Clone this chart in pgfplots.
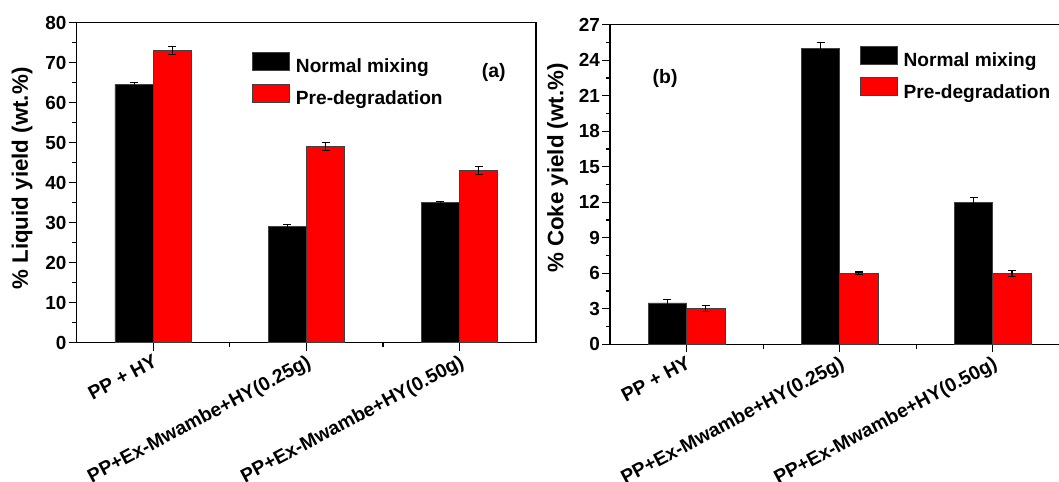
\documentclass[border=0pt]{standalone}
\usepackage{pgfplots}
\pgfplotsset{compat=1.18}
\usepackage{fontspec}
\setmainfont{Liberation Sans}

\pgfplotstableread{
x y e
0 64.5 0.5
1 29.0 0.5
2 35.0 0.4
}\liqnormal
\pgfplotstableread{
x y e
0 73.0 1.0
1 49.0 1.0
2 43.0 1.0
}\liqpre
\pgfplotstableread{
x y e
0 3.5 0.3
1 25.0 0.5
2 12.0 0.4
}\cokenormal
\pgfplotstableread{
x y e
0 3.0 0.25
1 6.0 0.1
2 6.0 0.25
}\cokepre

\pgfplotsset{
  mybars/.style={
    scale only axis, width=459.3bp, height=320bp,
    xmin=-0.5, xmax=2.5, ymin=0,
    ybar=0pt, bar width=38.3bp,
    xtick={0,1,2},
    xticklabels={PP + HY, PP+Ex-Mwambe+HY(0.25g), PP+Ex-Mwambe+HY(0.50g)},
    minor xtick={0.5,1.5},
    minor y tick num=1,
    tick align=outside, xtick pos=left, ytick pos=left,
    major tick length=8bp, minor tick length=4.5bp,
    axis line style={line width=1.2bp, black},
    every tick/.style={line width=1.2bp, black},
    tick label style={font=\bfseries\fontsize{19}{22}\selectfont},
    /pgf/number format/assume math mode=true,
    xticklabel style={rotate=28, anchor=north east, inner sep=2bp, font=\bfseries\fontsize{19.4}{22}\selectfont},
    yticklabel style={inner sep=2bp},
    ylabel style={font=\bfseries\fontsize{22.4}{26}\selectfont, anchor=center, rotate=0},
    error bars/y dir=both, error bars/y explicit,
    error bars/error bar style={line width=1.2bp, black},
    error bars/error mark options={rotate=90, mark size=4bp, line width=1.2bp, black},
    legend cell align=left,
    legend image code/.code={\draw[#1, line width=0.8bp] (0bp,-2.5bp) rectangle (37bp,15.5bp);},
    legend style={draw=none, fill=none, inner sep=0pt, outer sep=0pt,
      column sep=4bp, row sep=5bp,
      nodes={font=\bfseries\fontsize{19.2}{22}\selectfont, text height=13.5bp, text depth=4bp, inner sep=2bp}},
  },
  blackbar/.style={fill=black, draw=black!75, line width=0.6bp},
  redbar/.style={fill=red, draw=black!75, line width=0.6bp},
}

\begin{document}
\begin{tikzpicture}
\path[use as bounding box] (0,0) rectangle (1059bp,482bp);
\clip (0,0) rectangle (1059bp,482bp);

\begin{axis}[mybars,
  at={(76.7bp,139.3bp)}, anchor=south west,
  ymax=80, ytick={0,10,...,80},
  ylabel={\% Liquid yield (wt.\%)},
  ylabel style={at={(axis description cs:-0.119,0.513)}},
  legend style={at={(axis description cs:0.382,0.9075)}, anchor=north west},
]
\addplot[blackbar] table[x=x, y=y, y error=e]{\liqnormal};
\addplot[redbar] table[x=x, y=y, y error=e]{\liqpre};
\legend{Normal mixing, Pre-degradation}
\node[font=\bfseries\fontsize{19.5}{23}\selectfont] at (rel axis cs:0.908,0.843) {(a)};
\end{axis}

\begin{axis}[mybars,
  at={(610bp,137.7bp)}, anchor=south west,
  height=319.6bp,
  axis x line*=box, axis y line*=left,
  ymax=27, ytick={0,3,...,27},
  ylabel={\% Coke yield (wt.\%)},
  ylabel style={at={(axis description cs:-0.114,0.551)}},
  legend style={at={(axis description cs:0.544,0.934)}, anchor=north west},
]
\addplot[blackbar] table[x=x, y=y, y error=e]{\cokenormal};
\addplot[redbar] table[x=x, y=y, y error=e]{\cokepre};
\legend{Normal mixing, Pre-degradation}
\node[font=\bfseries\fontsize{19.5}{23}\selectfont] at (rel axis cs:0.12,0.8325) {(b)};
\end{axis}
\end{tikzpicture}
\end{document}
